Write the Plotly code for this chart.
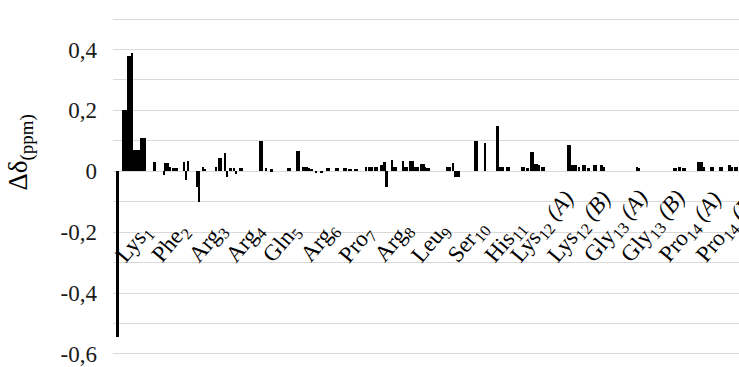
import plotly.graph_objects as go

# residue labels (category axis groups)
residues = ["Lys<sub>1</sub>", "Phe<sub>2</sub>", "Arg<sub>3</sub>", "Arg<sub>4</sub>",
            "Gln<sub>5</sub>", "Arg<sub>6</sub>", "Pro<sub>7</sub>", "Arg<sub>8</sub>",
            "Leu<sub>9</sub>", "Ser<sub>10</sub>", "His<sub>11</sub>",
            "Lys<sub>12</sub> <i>(A)</i>", "Lys<sub>12</sub> <i>(B)</i>",
            "Gly<sub>13</sub> <i>(A)</i>", "Gly<sub>13</sub> <i>(B)</i>",
            "Pro<sub>14</sub> <i>(A)</i>", "Pro<sub>14</sub> <i>(B)</i>"]

# chemical shift differences (ppm), 20 proton slots per residue
lys1 = [0, 0, -0.545, 0, 0, 0.2, 0.2, 0.2, 0.38, 0.38, 0.39, 0.07, 0.07, 0.07, 0.07, 0.11, 0.11, 0.11, 0, 0]
phe2 = [0, 0, 0.03, 0, 0, 0, 0, -0.012, 0.028, 0.028, 0.015, 0, 0.01, 0.01, 0.01, 0, 0, 0, 0.03, -0.03]
arg3 = [0.035, 0, 0, 0, 0, -0.05, -0.10, 0, 0.015, 0.008, 0, 0, 0, 0, 0, 0.013, 0, 0.045, 0.045, 0]
arg4 = [0.06, -0.02, 0, 0.01, 0, 0.01, -0.008, 0, 0.01, 0.01, 0, 0, 0, 0, 0, 0, 0, 0, 0, 0.1]
gln5 = [0.1, 0, 0.01, 0, 0, 0.006, 0, 0, 0, 0, 0, 0, 0, 0, 0.01, 0.01, 0, 0, 0, 0.067]
arg6 = [0.067, 0, 0.015, 0.015, 0.015, 0.012, 0.008, 0.008, 0, -0.007, 0, 0, -0.005, 0, 0, 0.01, 0.01, 0, 0, 0]
pro7 = [0.01, 0.01, 0, 0, 0.01, 0.01, 0, 0.008, 0.008, 0, 0.008, 0.008, 0, 0, 0, 0, 0.015, 0, 0.015, 0.015]
arg8 = [0, 0.015, 0.015, 0, 0.02, 0.02, 0.03, -0.053, 0, 0, 0.037, 0.015, 0.015, 0, 0, 0, 0.035, 0.015, 0.015, 0]
leu9 = [0.033, 0.033, 0.015, 0.015, 0.015, 0, 0.025, 0.025, 0.015, 0.01, 0.01, 0, 0, 0, 0, 0, 0, 0, 0, 0]
ser10 = [0.015, 0.015, 0, 0.026, -0.02, -0.02, -0.02, 0, 0, 0, 0, 0, 0, 0, 0, 0.1, 0.1, 0, 0, 0]
his11 = [0.093, 0, 0, 0, 0, 0, 0, 0.148, 0.015, 0.015, 0.015, 0, 0.015, 0.015, 0, 0, 0, 0, 0, 0]
lys12a = [0.015, 0.015, 0, 0.01, 0, 0.065, 0.065, 0.025, 0.025, 0.02, 0, 0.015, 0.015, 0, 0, 0, 0, 0, 0, 0]
lys12b = [0, 0, 0, 0, 0, 0.088, 0.088, 0.02, 0.02, 0.02, 0, 0.015, 0, 0.02, 0.02, 0, 0.01, 0, 0, 0.02]
gly13a = [0.02, 0, 0, 0.02, 0.015, 0, 0, 0, 0, 0, 0, 0, 0, 0, 0, 0, 0, 0, 0, 0]
gly13b = [0, 0, 0.015, 0.01, 0, 0, 0, 0, 0, 0, 0, 0, 0, 0, 0, 0, 0, 0, 0, 0]
pro14a = [0, 0, 0.012, 0.012, 0, 0.015, 0, 0.012, 0.012, 0, 0, 0, 0, 0, 0, 0.03, 0.03, 0.03, 0.015, 0]
pro14b = [0, 0, 0.015, 0.015, 0, 0, 0, 0.015, 0.015, 0, 0, 0, 0.02, 0.015, 0, 0.015, 0.015, 0, 0, 0]

groups = [lys1, phe2, arg3, arg4, gln5, arg6, pro7, arg8, leu9, ser10, his11,
          lys12a, lys12b, gly13a, gly13b, pro14a, pro14b]

y_tickvals = [-0.6, -0.4, -0.2, 0, 0.2, 0.4]
y_ticktext = ["-0,6", "-0,4", "-0,2", "0", "0,2", "0,4"]

xs, ys = [], []
for gi, vals in enumerate(groups):
    for si, v in enumerate(vals):
        xs.append(f"r{gi}-h{si}")
        ys.append(v)

n_per = len(lys1)

fig = go.Figure(go.Bar(x=xs, y=ys, marker=dict(color="black", line=dict(width=0)),
                       hoverinfo="skip"))

W, H = 739, 367
ml, mr, mt, mb = 113, 0, 17, 7
slot_px = 37.1 / n_per
x_end = -0.5 + (W - ml - mr) / slot_px

serif = "Liberation Serif, Times New Roman, serif"

annotations = []
for gi, lab in enumerate(residues):
    annotations.append(dict(
        x=gi * n_per + (n_per - 1) / 2, y=-0.33, xref="x", yref="y",
        text=lab, showarrow=False, textangle=-50,
        xanchor="center", yanchor="bottom", xshift=3,
        font=dict(family=serif, size=23, color="black")))

annotations.append(dict(
    x=-0.147, y=0.60, xref="paper", yref="paper", textangle=-90,
    text="Δδ<sub>(ppm)</sub>", showarrow=False, xanchor="center", yanchor="middle",
    font=dict(family=serif, size=27, color="black")))

fig.update_layout(
    width=W, height=H, margin=dict(l=ml, r=mr, t=mt, b=mb),
    paper_bgcolor="white", plot_bgcolor="white",
    bargap=0, showlegend=False,
    xaxis=dict(type="category", range=[-0.5, x_end], showticklabels=False,
               showgrid=False, zeroline=False, showline=False, ticks=""),
    yaxis=dict(range=[-0.607, 0.507], tickvals=y_tickvals, ticktext=y_ticktext,
               showgrid=True, gridcolor="#d9d9d9", gridwidth=1,
               minor=dict(dtick=0.1, tick0=0, showgrid=True, gridcolor="#d9d9d9", gridwidth=1),
               zeroline=True, zerolinecolor="#d9d9d9", zerolinewidth=1,
               showline=False, ticks="", ticklabelstandoff=15,
               ticklabeloverflow="allow",
               tickfont=dict(family=serif, size=23, color="#1a1a1a")),
    annotations=annotations,
)

fig.write_html("out.html", config={"displayModeBar": False},
               post_script="document.body.style.margin='0';document.body.style.overflow='hidden';")
